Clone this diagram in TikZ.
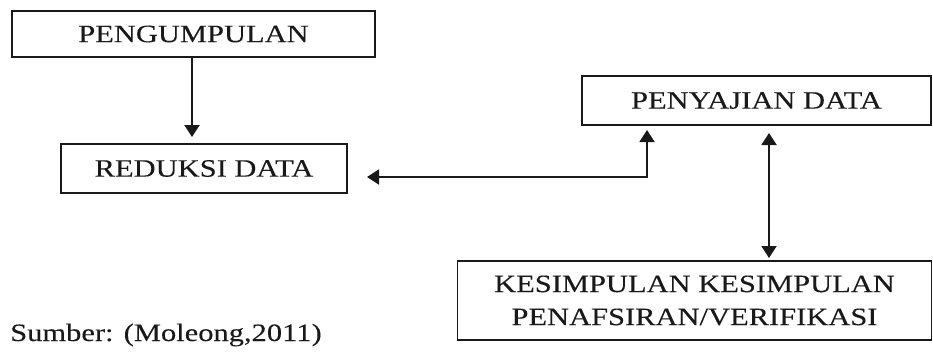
\documentclass[tikz,border=0pt]{standalone}
\usepackage{fontspec}
\setmainfont{Liberation Serif}[FakeStretch=1.22, FakeBold=0.15]
\usetikzlibrary{arrows.meta}
\tikzset{
  box/.style={draw=black!90, line width=1.6pt, inner sep=0pt, align=center},
  arr/.style={line width=1.9pt, draw=black!90, -{Triangle[width=15pt,length=12pt]}},
  darr/.style={line width=1.9pt, draw=black!90, {Triangle[width=15pt,length=12pt]}-{Triangle[width=15pt,length=12pt]}},
  lbl/.style={font=\fontsize{25}{33}\selectfont, text=black!90}
}
\begin{document}
\begin{tikzpicture}[x=1pt,y=-1pt]
\useasboundingbox (0,0) rectangle (933,356);
\node[box, lbl, minimum width=363pt, minimum height=46pt] (peng) at (193.5,34) {PENGUMPULAN};
\node[box, lbl, minimum width=286pt, minimum height=49pt] (red) at (204,168.5) {REDUKSI DATA};
\node[box, lbl, minimum width=349pt, minimum height=49pt] (pen) at (756.5,100.5) {PENYAJIAN DATA};
\node[box, lbl, minimum width=474pt, minimum height=79pt] (kes) at (694.5,300.5) {KESIMPULAN KESIMPULAN\\PENAFSIRAN/VERIFIKASI};
\node[lbl, anchor=base west, inner sep=0pt] (src) at (10,341) {Sumber: (Moleong,2011)};
\coordinate (lt) at (367,177);
\coordinate (bend) at (647,177);
\coordinate (ptop) at (647,130);
\draw[arr] (peng.south -| 192,0) -- (192,137);
\draw[darr] (lt) -- (bend) -- (ptop);
\draw[darr] (769,133) -- (769,258);
\end{tikzpicture}
\end{document}
